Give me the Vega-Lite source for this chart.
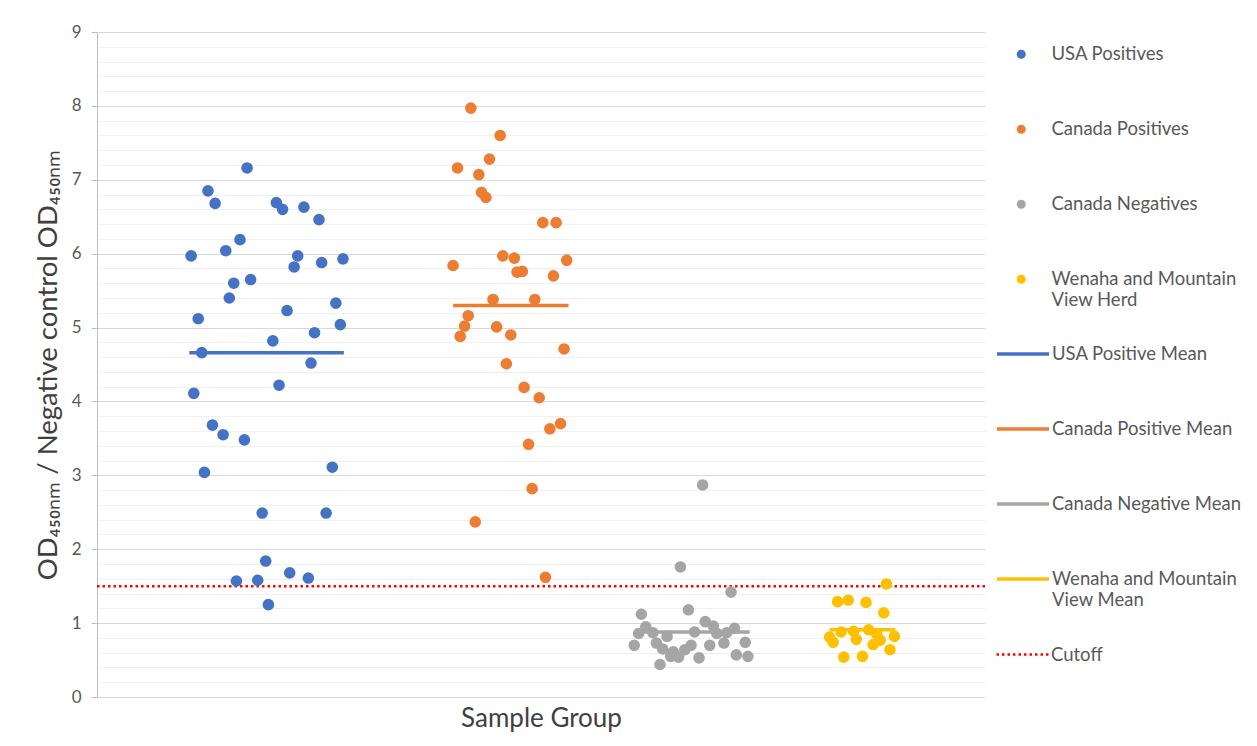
{
  "$schema": "https://vega.github.io/schema/vega-lite/v6.json",
  "width": 888,
  "height": 665,
  "autosize": {"type": "none"},
  "padding": {"left": 97, "top": 32, "right": 272, "bottom": 49},
  "background": "white",
  "config": {
    "view": {"stroke": null},
    "font": "Lato",
    "legend": {"labelFont": "Lato", "labelFontSize": 18.5, "labelColor": "#595959", "labelLimit": 400, "title": null}
  },
  "datasets": {
    "points": [
      {"group": "USA Positives", "x": 16.9, "value": 7.16},
      {"group": "USA Positives", "x": 12.5, "value": 6.85},
      {"group": "USA Positives", "x": 13.3, "value": 6.68},
      {"group": "USA Positives", "x": 20.2, "value": 6.69},
      {"group": "USA Positives", "x": 20.9, "value": 6.60},
      {"group": "USA Positives", "x": 23.3, "value": 6.63},
      {"group": "USA Positives", "x": 25.0, "value": 6.46},
      {"group": "USA Positives", "x": 16.1, "value": 6.19},
      {"group": "USA Positives", "x": 14.5, "value": 6.04},
      {"group": "USA Positives", "x": 10.6, "value": 5.97},
      {"group": "USA Positives", "x": 22.6, "value": 5.97},
      {"group": "USA Positives", "x": 22.2, "value": 5.82},
      {"group": "USA Positives", "x": 25.3, "value": 5.88},
      {"group": "USA Positives", "x": 27.7, "value": 5.93},
      {"group": "USA Positives", "x": 15.4, "value": 5.60},
      {"group": "USA Positives", "x": 17.3, "value": 5.65},
      {"group": "USA Positives", "x": 14.9, "value": 5.40},
      {"group": "USA Positives", "x": 26.9, "value": 5.33},
      {"group": "USA Positives", "x": 11.4, "value": 5.12},
      {"group": "USA Positives", "x": 21.4, "value": 5.23},
      {"group": "USA Positives", "x": 27.4, "value": 5.04},
      {"group": "USA Positives", "x": 24.5, "value": 4.93},
      {"group": "USA Positives", "x": 19.8, "value": 4.82},
      {"group": "USA Positives", "x": 11.8, "value": 4.66},
      {"group": "USA Positives", "x": 24.1, "value": 4.52},
      {"group": "USA Positives", "x": 20.5, "value": 4.22},
      {"group": "USA Positives", "x": 10.9, "value": 4.11},
      {"group": "USA Positives", "x": 13.0, "value": 3.68},
      {"group": "USA Positives", "x": 14.2, "value": 3.55},
      {"group": "USA Positives", "x": 16.6, "value": 3.48},
      {"group": "USA Positives", "x": 12.1, "value": 3.04},
      {"group": "USA Positives", "x": 26.5, "value": 3.11},
      {"group": "USA Positives", "x": 18.6, "value": 2.49},
      {"group": "USA Positives", "x": 25.8, "value": 2.49},
      {"group": "USA Positives", "x": 19.0, "value": 1.84},
      {"group": "USA Positives", "x": 21.7, "value": 1.68},
      {"group": "USA Positives", "x": 15.7, "value": 1.57},
      {"group": "USA Positives", "x": 18.1, "value": 1.58},
      {"group": "USA Positives", "x": 23.8, "value": 1.61},
      {"group": "USA Positives", "x": 19.3, "value": 1.25},
      {"group": "Canada Positives", "x": 42.1, "value": 7.97},
      {"group": "Canada Positives", "x": 45.4, "value": 7.60},
      {"group": "Canada Positives", "x": 44.2, "value": 7.28},
      {"group": "Canada Positives", "x": 40.6, "value": 7.16},
      {"group": "Canada Positives", "x": 43.0, "value": 7.07},
      {"group": "Canada Positives", "x": 43.3, "value": 6.83},
      {"group": "Canada Positives", "x": 43.8, "value": 6.76},
      {"group": "Canada Positives", "x": 50.2, "value": 6.42},
      {"group": "Canada Positives", "x": 51.7, "value": 6.42},
      {"group": "Canada Positives", "x": 45.7, "value": 5.97},
      {"group": "Canada Positives", "x": 47.0, "value": 5.94},
      {"group": "Canada Positives", "x": 40.1, "value": 5.84},
      {"group": "Canada Positives", "x": 52.9, "value": 5.91},
      {"group": "Canada Positives", "x": 47.3, "value": 5.75},
      {"group": "Canada Positives", "x": 47.9, "value": 5.76},
      {"group": "Canada Positives", "x": 51.4, "value": 5.70},
      {"group": "Canada Positives", "x": 44.6, "value": 5.38},
      {"group": "Canada Positives", "x": 49.3, "value": 5.38},
      {"group": "Canada Positives", "x": 41.8, "value": 5.16},
      {"group": "Canada Positives", "x": 41.4, "value": 5.02},
      {"group": "Canada Positives", "x": 45.0, "value": 5.01},
      {"group": "Canada Positives", "x": 40.9, "value": 4.88},
      {"group": "Canada Positives", "x": 46.6, "value": 4.90},
      {"group": "Canada Positives", "x": 52.6, "value": 4.71},
      {"group": "Canada Positives", "x": 46.1, "value": 4.51},
      {"group": "Canada Positives", "x": 48.1, "value": 4.19},
      {"group": "Canada Positives", "x": 49.8, "value": 4.05},
      {"group": "Canada Positives", "x": 52.2, "value": 3.70},
      {"group": "Canada Positives", "x": 51.0, "value": 3.63},
      {"group": "Canada Positives", "x": 48.6, "value": 3.42},
      {"group": "Canada Positives", "x": 49.0, "value": 2.82},
      {"group": "Canada Positives", "x": 42.6, "value": 2.37},
      {"group": "Canada Positives", "x": 50.5, "value": 1.62},
      {"group": "Canada Negatives", "x": 68.2, "value": 2.87},
      {"group": "Canada Negatives", "x": 65.7, "value": 1.76},
      {"group": "Canada Negatives", "x": 71.4, "value": 1.42},
      {"group": "Canada Negatives", "x": 61.3, "value": 1.12},
      {"group": "Canada Negatives", "x": 66.6, "value": 1.18},
      {"group": "Canada Negatives", "x": 68.5, "value": 1.02},
      {"group": "Canada Negatives", "x": 61.8, "value": 0.95},
      {"group": "Canada Negatives", "x": 69.4, "value": 0.96},
      {"group": "Canada Negatives", "x": 71.8, "value": 0.93},
      {"group": "Canada Negatives", "x": 61.0, "value": 0.86},
      {"group": "Canada Negatives", "x": 62.6, "value": 0.87},
      {"group": "Canada Negatives", "x": 67.3, "value": 0.88},
      {"group": "Canada Negatives", "x": 64.2, "value": 0.82},
      {"group": "Canada Negatives", "x": 69.8, "value": 0.86},
      {"group": "Canada Negatives", "x": 70.9, "value": 0.87},
      {"group": "Canada Negatives", "x": 63.0, "value": 0.73},
      {"group": "Canada Negatives", "x": 60.5, "value": 0.70},
      {"group": "Canada Negatives", "x": 69.0, "value": 0.70},
      {"group": "Canada Negatives", "x": 70.6, "value": 0.73},
      {"group": "Canada Negatives", "x": 73.0, "value": 0.74},
      {"group": "Canada Negatives", "x": 63.7, "value": 0.65},
      {"group": "Canada Negatives", "x": 66.9, "value": 0.70},
      {"group": "Canada Negatives", "x": 66.2, "value": 0.64},
      {"group": "Canada Negatives", "x": 64.9, "value": 0.61},
      {"group": "Canada Negatives", "x": 64.6, "value": 0.55},
      {"group": "Canada Negatives", "x": 65.5, "value": 0.54},
      {"group": "Canada Negatives", "x": 67.8, "value": 0.53},
      {"group": "Canada Negatives", "x": 72.0, "value": 0.57},
      {"group": "Canada Negatives", "x": 73.3, "value": 0.55},
      {"group": "Canada Negatives", "x": 63.4, "value": 0.44},
      {"group": "Wenaha and Mountain View Herd", "x": 88.9, "value": 1.53},
      {"group": "Wenaha and Mountain View Herd", "x": 83.4, "value": 1.29},
      {"group": "Wenaha and Mountain View Herd", "x": 84.6, "value": 1.31},
      {"group": "Wenaha and Mountain View Herd", "x": 86.6, "value": 1.28},
      {"group": "Wenaha and Mountain View Herd", "x": 88.6, "value": 1.14},
      {"group": "Wenaha and Mountain View Herd", "x": 86.9, "value": 0.91},
      {"group": "Wenaha and Mountain View Herd", "x": 83.8, "value": 0.88},
      {"group": "Wenaha and Mountain View Herd", "x": 85.2, "value": 0.89},
      {"group": "Wenaha and Mountain View Herd", "x": 82.5, "value": 0.81},
      {"group": "Wenaha and Mountain View Herd", "x": 85.5, "value": 0.78},
      {"group": "Wenaha and Mountain View Herd", "x": 87.8, "value": 0.85},
      {"group": "Wenaha and Mountain View Herd", "x": 89.8, "value": 0.82},
      {"group": "Wenaha and Mountain View Herd", "x": 82.9, "value": 0.74},
      {"group": "Wenaha and Mountain View Herd", "x": 88.2, "value": 0.77},
      {"group": "Wenaha and Mountain View Herd", "x": 87.4, "value": 0.71},
      {"group": "Wenaha and Mountain View Herd", "x": 89.3, "value": 0.64},
      {"group": "Wenaha and Mountain View Herd", "x": 84.1, "value": 0.54},
      {"group": "Wenaha and Mountain View Herd", "x": 86.2, "value": 0.55}
    ],
    "means": [
      {"series": "USA Positive Mean", "x": 10.4, "xend": 27.8, "value": 4.66},
      {"series": "Canada Positive Mean", "x": 40.1, "xend": 53.1, "value": 5.30},
      {"series": "Canada Negative Mean", "x": 61.1, "xend": 73.5, "value": 0.88},
      {"series": "Wenaha and Mountain View Mean", "x": 82.5, "xend": 89.9, "value": 0.91}
    ],
    "cutoff": [
      {"series": "Cutoff", "x": 0, "xend": 100, "value": 1.5}
    ]
  },
  "encoding": {
    "x": {
      "field": "x", "type": "quantitative",
      "scale": {"domain": [0, 100], "nice": false, "zero": false},
      "axis": {"title": "Sample Group", "labels": false, "ticks": false, "domain": false, "grid": false,
               "titleFontSize": 26, "titleFontWeight": "normal", "titleColor": "#404040", "titlePadding": 8, "titleFont": "Lato"}
    },
    "y": {
      "field": "value", "type": "quantitative",
      "scale": {"domain": [0, 9], "nice": false},
      "axis": {
        "title": "OD₄₅₀ₙₘ / Negative control OD₄₅₀ₙₘ",
        "values": [0,0.2,0.4,0.6,0.8,1,1.2,1.4,1.6,1.8,2,2.2,2.4,2.6,2.8,3,3.2,3.4,3.6,3.8,4,4.2,4.4,4.6,4.8,5,5.2,5.4,5.6,5.8,6,6.2,6.4,6.6,6.8,7,7.2,7.4,7.6,7.8,8,8.2,8.4,8.6,8.8,9],
        "format": ".0f",
        "labelExpr": "datum.value % 1 === 0 ? datum.label : ''",
        "labelOverlap": false,
        "gridColor": {"condition": {"test": "datum.value % 1 === 0", "value": "#D9D9D9"}, "value": "#F0F0F0"},
        "tickColor": {"condition": {"test": "datum.value % 1 === 0", "value": "#BFBFBF"}, "value": "transparent"},
        "gridWidth": 1.2,
        "domainColor": "#BFBFBF",
        "tickSize": 6,
        "labelFontSize": 17, "labelColor": "#595959", "labelPadding": 10, "labelFont": "Lato",
        "titleFontSize": 27.5, "titleFontWeight": "normal", "titleColor": "#404040", "titlePadding": 9, "titleFont": "Lato"
      }
    }
  },
  "layer": [
    {
      "data": {"name": "cutoff"},
      "mark": {"type": "rule", "stroke": "#FF0000", "strokeWidth": 2.5},
      "encoding": {
        "x2": {"field": "xend"},
        "strokeDash": {
          "field": "series", "type": "nominal",
          "scale": {"domain": ["Cutoff"], "range": [[2.5, 3]]},
          "legend": {"orient": "none", "legendX": 898, "legendY": 595, "symbolType": "stroke", "symbolSize": 2704,
                     "symbolStrokeWidth": 2.5, "symbolStrokeColor": "#FF0000", "labelOffset": 1}
        }
      }
    },
    {
      "data": {"name": "means"},
      "mark": {"type": "rule", "strokeWidth": 3.5},
      "encoding": {
        "x2": {"field": "xend"},
        "stroke": {
          "field": "series", "type": "nominal",
          "scale": {"domain": ["USA Positive Mean", "Canada Positive Mean", "Canada Negative Mean", "Wenaha and Mountain View Mean"],
                    "range": ["#4472C4", "#ED7D31", "#A5A5A5", "#FFC000"]},
          "legend": {"orient": "none", "legendX": 898, "legendY": 294, "symbolType": "stroke", "symbolSize": 2704,
                     "symbolStrokeWidth": 3.5, "labelOffset": 1, "rowPadding": 37,
                     "labelExpr": "datum.label === 'Wenaha and Mountain View Mean' ? ['Wenaha and Mountain', 'View Mean'] : datum.label"}
        }
      }
    },
    {
      "data": {"name": "points"},
      "mark": {"type": "circle", "size": 135, "opacity": 1},
      "encoding": {
        "color": {
          "field": "group", "type": "nominal",
          "scale": {"domain": ["USA Positives", "Canada Positives", "Canada Negatives", "Wenaha and Mountain View Herd"],
                    "range": ["#4472C4", "#ED7D31", "#A5A5A5", "#FFC000"]},
          "legend": {"orient": "none", "legendX": 915, "legendY": 13, "symbolType": "circle", "symbolSize": 80,
                     "labelOffset": 21, "rowPadding": 56,
                     "labelExpr": "datum.label === 'Wenaha and Mountain View Herd' ? ['Wenaha and Mountain', 'View Herd'] : datum.label"}
        }
      }
    }
  ]
}
